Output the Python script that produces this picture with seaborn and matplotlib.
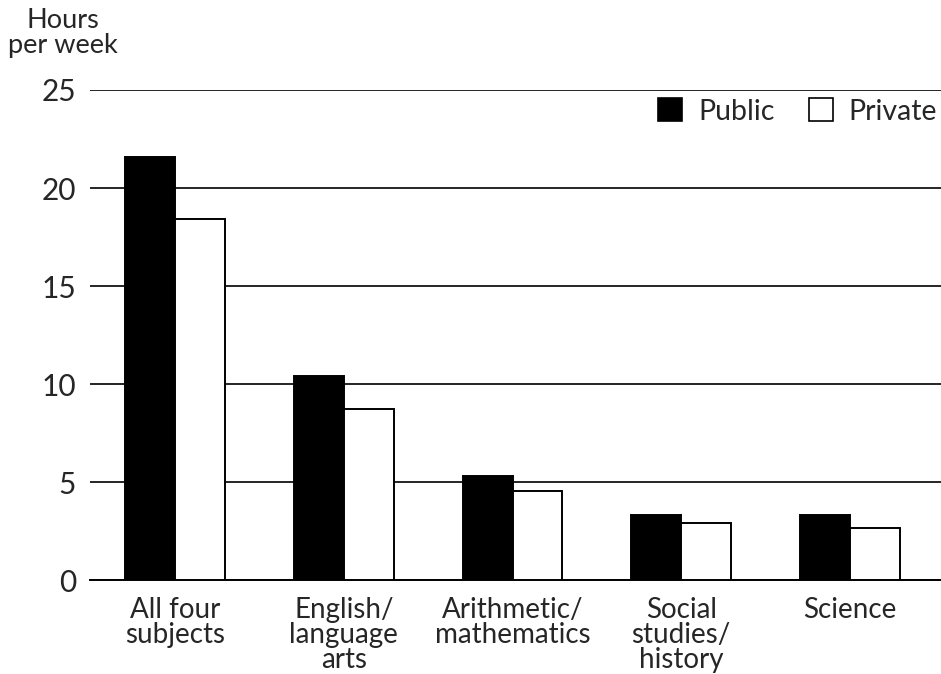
import matplotlib
matplotlib.use("Agg")
import matplotlib.pyplot as plt
import seaborn as sns
import pandas as pd
from matplotlib.patches import Patch

categories = ["All four\nsubjects", "English/\nlanguage\narts", "Arithmetic/\nmathematics",
              "Social\nstudies/\nhistory", "Science"]
public = [21.6, 10.4, 5.3, 3.3, 3.3]
private = [18.4, 8.7, 4.55, 2.9, 2.65]
series = ["Public", "Private"]
yticks = [0, 5, 10, 15, 20, 25]

df = pd.DataFrame({
    "category": categories * 2,
    "hours": public + private,
    "sector": ["Public"] * len(categories) + ["Private"] * len(categories),
})

sns.set_theme(style="white")
plt.rcParams["font.family"] = ["Lato", "DejaVu Sans"]

fig = plt.figure(figsize=(9.41, 6.74), dpi=100)
ax = fig.add_axes([90 / 941, 1 - 580 / 674, 1 - 90 / 941, (580 - 90) / 674])

sns.barplot(data=df, x="category", y="hours", hue="sector", hue_order=series,
            palette={"Public": "black", "Private": "white"}, edgecolor="black",
            linewidth=1.4, width=0.59, saturation=1, ax=ax, legend=False, zorder=3)

ax.set_ylim(0, 25)
ax.set_xlim(-0.505, 4.54)
ax.set_yticks(yticks)
ax.set_yticklabels([str(v) for v in yticks], fontsize=21.5)
ax.yaxis.grid(True, color="black", linewidth=1.2, zorder=0)
ax.set_axisbelow(True)
ax.tick_params(axis="y", length=0, pad=10)
ax.tick_params(axis="x", length=0, pad=12, labelsize=20)
for lbl in ax.get_xticklabels():
    lbl.set_linespacing(0.95)
    lbl.set_verticalalignment("top")

for s in ["top", "right", "left"]:
    ax.spines[s].set_visible(False)
ax.spines["bottom"].set_color("black")
ax.spines["bottom"].set_linewidth(1.4)
ax.set_xlabel("")
ax.set_ylabel("")

fig.text(63 / 941, 1 - 8 / 674, "Hours\nper week", ha="center", va="top",
         fontsize=19.5, linespacing=0.98)

handles = [Patch(facecolor="black", edgecolor="black", linewidth=1.2, label="Public"),
           Patch(facecolor="white", edgecolor="black", linewidth=1.2, label="Private")]
ax.legend(handles=handles, loc="upper right", bbox_to_anchor=(1.012, 1.012), ncol=2,
          frameon=False, fontsize=20.5, handlelength=0.85, handleheight=0.85,
          handletextpad=0.55, columnspacing=1.2, borderaxespad=0.1)

fig.savefig("out.png", dpi=100)
